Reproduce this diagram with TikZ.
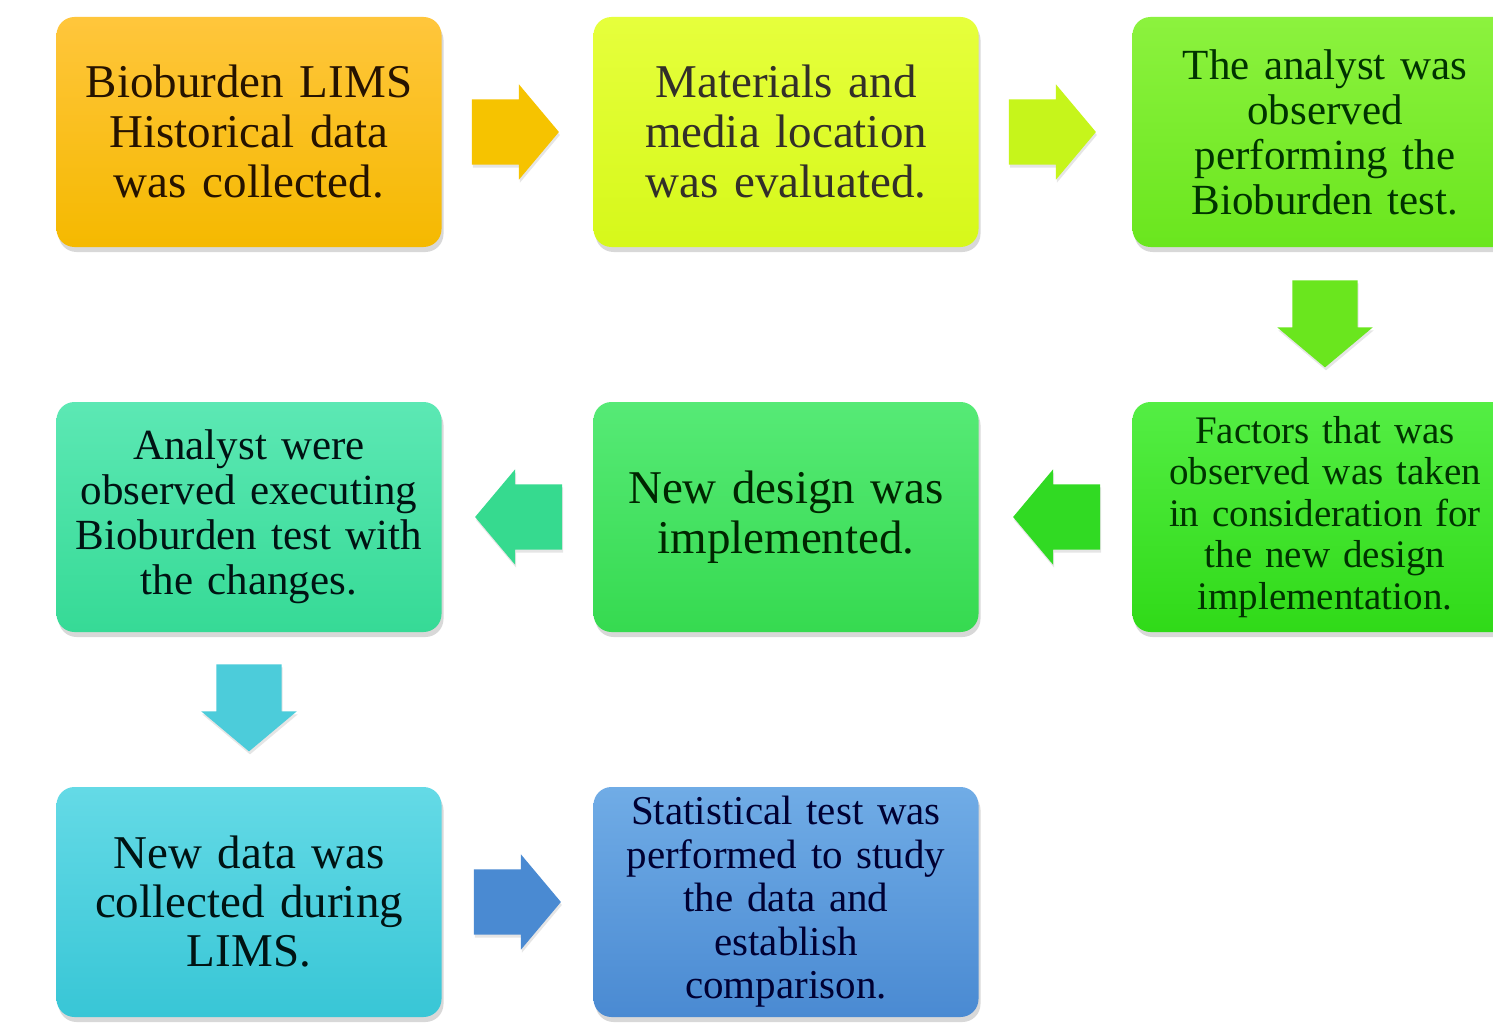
\documentclass[tikz,border=0pt]{standalone}
\usepackage{fontspec}
\setmainfont{LiberationSerif}[Extension=.ttf, UprightFont=*-Regular, BoldFont=*-Bold]
\newfontfamily\boxfont{LiberationSerif}[Extension=.ttf, UprightFont=*-Regular]
\usetikzlibrary{shapes.arrows,shadows,calc}

\definecolor{orangeT}{HTML}{FFC63C}
\definecolor{orangeB}{HTML}{F5B900}
\definecolor{limeT}{HTML}{E6FF3C}
\definecolor{limeB}{HTML}{D6F81A}
\definecolor{lgreenT}{HTML}{8CF23E}
\definecolor{lgreenB}{HTML}{6AE61E}
\definecolor{tealT}{HTML}{5CE8B4}
\definecolor{tealB}{HTML}{36DA96}
\definecolor{mgreenT}{HTML}{56EA76}
\definecolor{mgreenB}{HTML}{36DA50}
\definecolor{bgreenT}{HTML}{54EE44}
\definecolor{bgreenB}{HTML}{30DA18}
\definecolor{cyanT}{HTML}{64DAE6}
\definecolor{cyanB}{HTML}{38C6D6}
\definecolor{blueT}{HTML}{70ACE6}
\definecolor{blueB}{HTML}{4A8AD2}

\begin{document}
\begin{tikzpicture}[x=1pt,y=-1pt,
  box/.style 2 args={rounded corners=18pt, top color=#1, bottom color=#2,
    minimum width=385pt, minimum height=230pt, text width=370pt, align=center,
    inner sep=0pt, drop shadow={shadow xshift=2pt, shadow yshift=-5pt, opacity=0.3}},
  flow/.style={single arrow, fill=#1, draw=none, anchor=tail, minimum height=87pt, minimum width=95pt,
    inner xsep=0pt, inner ysep=32.5pt, single arrow head extend=15pt,
    single arrow tip angle=100, drop shadow={shadow xshift=1pt, shadow yshift=-3pt, opacity=0.2}}]

\fill[white] (0,0) rectangle (1493,1027);
\useasboundingbox (0,0) rectangle (1493,1027);

\node[box={orangeT}{orangeB}, text=black!85!orange, font=\boxfont\fontsize{47}{50}\selectfont] (b1) at (249,132)
  {Bioburden LIMS\\Historical data\\was collected.};
\node[box={limeT}{limeB}, text=black!85!olive, font=\boxfont\fontsize{47}{50}\selectfont] (b2) at (786,132)
  {Materials and\\media location\\was evaluated.};
\node[box={lgreenT}{lgreenB}, text=black!80!green, font=\boxfont\fontsize{43}{45}\selectfont] (b3) at (1325,132)
  {The analyst was\\observed\\performing the\\Bioburden test.};

\node[box={bgreenT}{bgreenB}, text=black!80!green, font=\boxfont\fontsize{39}{41.5}\selectfont] (b6) at (1325,517)
  {Factors that was\\observed was taken\\in consideration for\\the new design\\implementation.};
\node[box={mgreenT}{mgreenB}, text=black!85!green, font=\boxfont\fontsize{47}{50}\selectfont] (b5) at (786,517)
  {New design was\\implemented.};
\node[box={tealT}{tealB}, text=black!85!teal, font=\boxfont\fontsize{43}{45}\selectfont] (b4) at (249,517)
  {Analyst were\\observed executing\\Bioburden test with\\the changes.};

\node[box={cyanT}{cyanB}, text=black!85!teal, font=\boxfont\fontsize{47}{49}\selectfont] (b7) at (249,902)
  {New data was\\collected during\\LIMS.};
\node[box={blueT}{blueB}, text=black!80!blue, font=\boxfont\fontsize{41}{43.5}\selectfont] (b8) at (786,902)
  {Statistical test was\\performed to study\\the data and\\establish\\comparison.};

\node[flow={orangeB!85!yellow}] (a12) at ([xshift=30pt]b1.east) {};
\node[flow={limeB!85!lgreenB}] (a23) at ([xshift=30pt]b2.east) {};
\node[flow={lgreenB}, rotate=-90] (a36) at ([yshift=-33pt]b3.south) {};
\node[flow={bgreenB!80!mgreenB}, rotate=180] (a65) at ([xshift=-32pt]b6.west) {};
\node[flow={tealB!90!mgreenB}, rotate=180] (a54) at ([xshift=-31pt]b5.west) {};
\node[flow={cyanB!90!white}, rotate=-90] (a47) at ([yshift=-32pt]b4.south) {};
\node[flow={blueB}] (a78) at ([xshift=32pt]b7.east) {};

\end{tikzpicture}
\end{document}
